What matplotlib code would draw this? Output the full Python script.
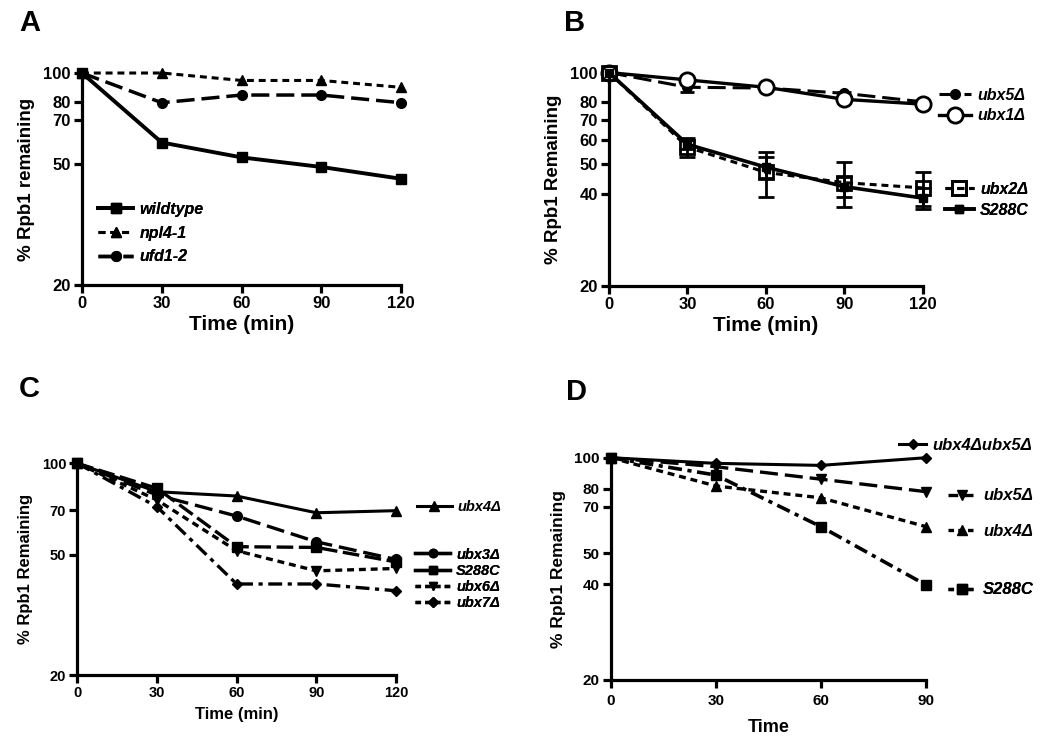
import matplotlib
matplotlib.use("Agg")
import matplotlib.pyplot as plt
from matplotlib.font_manager import FontProperties

plt.rcParams['font.family'] = ['Liberation Sans', 'DejaVu Sans']
plt.rcParams['font.weight'] = 'bold'
plt.rcParams['lines.scale_dashes'] = False

# ---- data ----
# panel A
a_time = [0, 30, 60, 90, 120]
a_wildtype = [100, 59, 52.7, 49, 44.8]
a_npl4 = [100, 100, 94.5, 94.5, 89.7]
a_ufd1 = [100, 79.8, 84.6, 84.6, 79.8]

# panel B
b_time = [0, 30, 60, 90, 120]
b_ubx5 = [100, 89.5, 89, 85.5, 80.2]
b_ubx5_err = [0, 3, 1, 1, 1]
b_ubx1 = [100, 94.6, 89.5, 81.7, 78.8]
b_ubx1_err = [0, 1, 1, 1, 1.5]
b_ubx2 = [100, 57, 47.1, 43.6, 41.9]
b_ubx2_err = [0, 4, 8, 7.2, 5.2]
b_s288c = [100, 58.2, 49, 42.3, 38.8]
b_s288c_err = [0, 2, 4, 3.3, 3.1]

# panel C
c_time = [0, 30, 60, 90, 120]
c_ubx4 = [100, 80.6, 78, 68.7, 69.8]
c_ubx3 = [100, 78.6, 67, 55.1, 48.2]
c_s288c = [100, 82.7, 53.1, 52.8, 47.3]
c_ubx6 = [100, 75.7, 51.5, 44.2, 45]
c_ubx7 = [100, 71.9, 40, 40, 38]

# panel D
d_time = [0, 30, 60, 90]
d_ubx45 = [100, 96, 94.6, 100]
d_ubx5 = [100, 93.7, 85.6, 78.2]
d_ubx4 = [100, 81.5, 74.8, 60.7]
d_s288c = [100, 88.2, 60.7, 39.8]

SHORT = (5, 3.5)
LONG = (13, 5)
DASHDOT = (10, 4, 3, 4)

fig = plt.figure(figsize=(10.5, 7.36), dpi=100)


def style(ax, xmax, xticks, yticks, xlabel, ylabel, tfs, lfs, yfs, xpad=3):
    ax.set_yscale('log')
    ax.set_ylim(20, 100)
    ax.set_xlim(0, xmax)
    ax.set_xticks(xticks)
    ax.set_xticklabels([str(t) for t in xticks])
    ax.set_yticks(yticks)
    ax.set_yticklabels([str(t) for t in yticks])
    ax.minorticks_off()
    for s in ['top', 'right']:
        ax.spines[s].set_visible(False)
    for s in ['left', 'bottom']:
        ax.spines[s].set_linewidth(2.3)
    ax.tick_params(width=2.3, length=6, labelsize=tfs, pad=2)
    ax.set_xlabel(xlabel, fontsize=lfs, fontweight='bold', labelpad=xpad)
    ax.set_ylabel(ylabel, fontsize=yfs, fontweight='bold', labelpad=6)


def key(ax, handles, labels, anchor, fs, hl=2.0, sp=0.5):
    lg = ax.legend(handles, labels, loc='center left', bbox_to_anchor=anchor,
                   frameon=False, handlelength=hl, handletextpad=0.4,
                   labelspacing=sp, borderaxespad=0, borderpad=0,
                   prop=FontProperties(family='Liberation Sans', weight='bold',
                                       style='italic', size=fs))
    ax.add_artist(lg)
    return lg


# ---- A ----
axA = fig.add_axes([0.0781, 0.6128, 0.3038, 0.288])
h1, = axA.plot(a_time, a_wildtype, '-', marker='s', ms=7, color='black', lw=2.8, clip_on=False)
h2, = axA.plot(a_time, a_npl4, marker='^', ms=7, color='black', lw=2.2, dashes=SHORT, clip_on=False)
h3, = axA.plot(a_time, a_ufd1, marker='o', ms=7, color='black', lw=2.5, dashes=LONG, clip_on=False)
style(axA, 120, [0, 30, 60, 90, 120], [20, 50, 70, 80, 100], 'Time (min)',
      '% Rpb1 remaining', 12, 15, 13.5)
key(axA, [h1, h2, h3], ['wildtype', 'npl4-1', 'ufd1-2'], (0.05, 0.245), 11.5, hl=2.2, sp=0.55)

# ---- B ----
axB = fig.add_axes([0.58, 0.6114, 0.299, 0.29])
e1 = axB.errorbar(b_time, b_ubx5, yerr=b_ubx5_err, marker='o', ms=7, color='black', lw=2.2,
                  dashes=LONG, capsize=5, capthick=2, elinewidth=2, clip_on=False)
e2 = axB.errorbar(b_time, b_ubx1, yerr=b_ubx1_err, marker='o', ms=11, mfc='white', mew=2,
                  color='black', lw=2.4, capsize=5, capthick=2, elinewidth=2, clip_on=False)
e3 = axB.errorbar(b_time, b_ubx2, yerr=b_ubx2_err, marker='s', ms=10, mfc='none', mew=2,
                  color='black', lw=2.2, dashes=SHORT, capsize=6, capthick=2, elinewidth=2,
                  clip_on=False)
e4 = axB.errorbar(b_time, b_s288c, yerr=b_s288c_err, marker='s', ms=6, color='black', lw=2.6,
                  capsize=6, capthick=2, elinewidth=2, clip_on=False)
style(axB, 120, [0, 30, 60, 90, 120], [20, 40, 50, 60, 70, 80, 100], 'Time (min)',
      '% Rpb1 Remaining', 12, 15, 13.5)
key(axB, [e1[0], e2[0]], ['ubx5Δ', 'ubx1Δ'], (1.05, 0.845), 11.5, hl=2.0, sp=0.35)
key(axB, [e3[0], e4[0]], ['ubx2Δ', 'S288C'], (1.07, 0.404), 11.5, hl=1.8, sp=0.35)

# ---- C ----
axC = fig.add_axes([0.0736, 0.0825, 0.3035, 0.288])
c1, = axC.plot(c_time, c_ubx4, '-', marker='^', ms=7, color='black', lw=2.2, clip_on=False)
c2, = axC.plot(c_time, c_ubx3, marker='o', ms=7, color='black', lw=2.4, dashes=LONG, clip_on=False)
c3, = axC.plot(c_time, c_s288c, marker='s', ms=7, color='black', lw=2.4, dashes=(12, 4), clip_on=False)
c4, = axC.plot(c_time, c_ubx6, marker='v', ms=7, color='black', lw=2.4, dashes=SHORT, clip_on=False)
c5, = axC.plot(c_time, c_ubx7, marker='D', ms=5.5, color='black', lw=2.4, dashes=DASHDOT, clip_on=False)
style(axC, 120, [0, 30, 60, 90, 120], [20, 50, 70, 100], 'Time (min)',
      '% Rpb1 Remaining', 10.5, 12, 12, xpad=5)
key(axC, [c1], ['ubx4Δ'], (1.066, 0.795), 10.5, hl=2.4)
lc = [plt.Line2D([], [], color='black', lw=2.4, marker='o', ms=6),
      plt.Line2D([], [], color='black', lw=2.4, marker='s', ms=6),
      plt.Line2D([], [], color='black', lw=2.4, marker='v', ms=6, dashes=(4, 3)),
      plt.Line2D([], [], color='black', lw=2.4, marker='D', ms=5, dashes=(4, 3))]
key(axC, lc, ['ubx3Δ', 'S288C', 'ubx6Δ', 'ubx7Δ'], (1.06, 0.455), 10.5, hl=2.4, sp=0.15)

# ---- D ----
axD = fig.add_axes([0.5816, 0.0761, 0.3003, 0.302])
d1, = axD.plot(d_time, d_ubx45, '-', marker='D', ms=5.5, color='black', lw=2.2, clip_on=False)
d2, = axD.plot(d_time, d_ubx5, marker='v', ms=7, color='black', lw=2.4, dashes=LONG, clip_on=False)
d3, = axD.plot(d_time, d_ubx4, marker='^', ms=7, color='black', lw=2.4, dashes=SHORT, clip_on=False)
d4, = axD.plot(d_time, d_s288c, marker='s', ms=7.5, color='black', lw=2.6, dashes=DASHDOT, clip_on=False)
style(axD, 90, [0, 30, 60, 90], [20, 40, 50, 70, 80, 100], 'Time',
      '% Rpb1 Remaining', 11, 13, 12.5, xpad=8)
axD.tick_params(axis='x', pad=4)
key(axD, [d1], ['ubx4Δubx5Δ'], (0.915, 1.057), 12, hl=1.6)
key(axD, [plt.Line2D([], [], color='black', lw=2.4, marker='v', ms=7, dashes=(7, 4))],
    ['ubx5Δ'], (1.07, 0.828), 12, hl=1.7)
key(axD, [plt.Line2D([], [], color='black', lw=2.4, marker='^', ms=7, dashes=(4, 3))],
    ['ubx4Δ'], (1.07, 0.667), 12, hl=1.7)
key(axD, [plt.Line2D([], [], color='black', lw=2.4, marker='s', ms=7, dashes=(4, 3))],
    ['S288C'], (1.07, 0.405), 12, hl=1.7)

# panel letters
for x, y, t in [(0.018, 0.988, 'A'), (0.537, 0.988, 'B'), (0.018, 0.49, 'C'), (0.539, 0.487, 'D')]:
    fig.text(x, y, t, fontsize=21, fontweight='bold', va='top', ha='left')

fig.savefig('out.png', dpi=100)
